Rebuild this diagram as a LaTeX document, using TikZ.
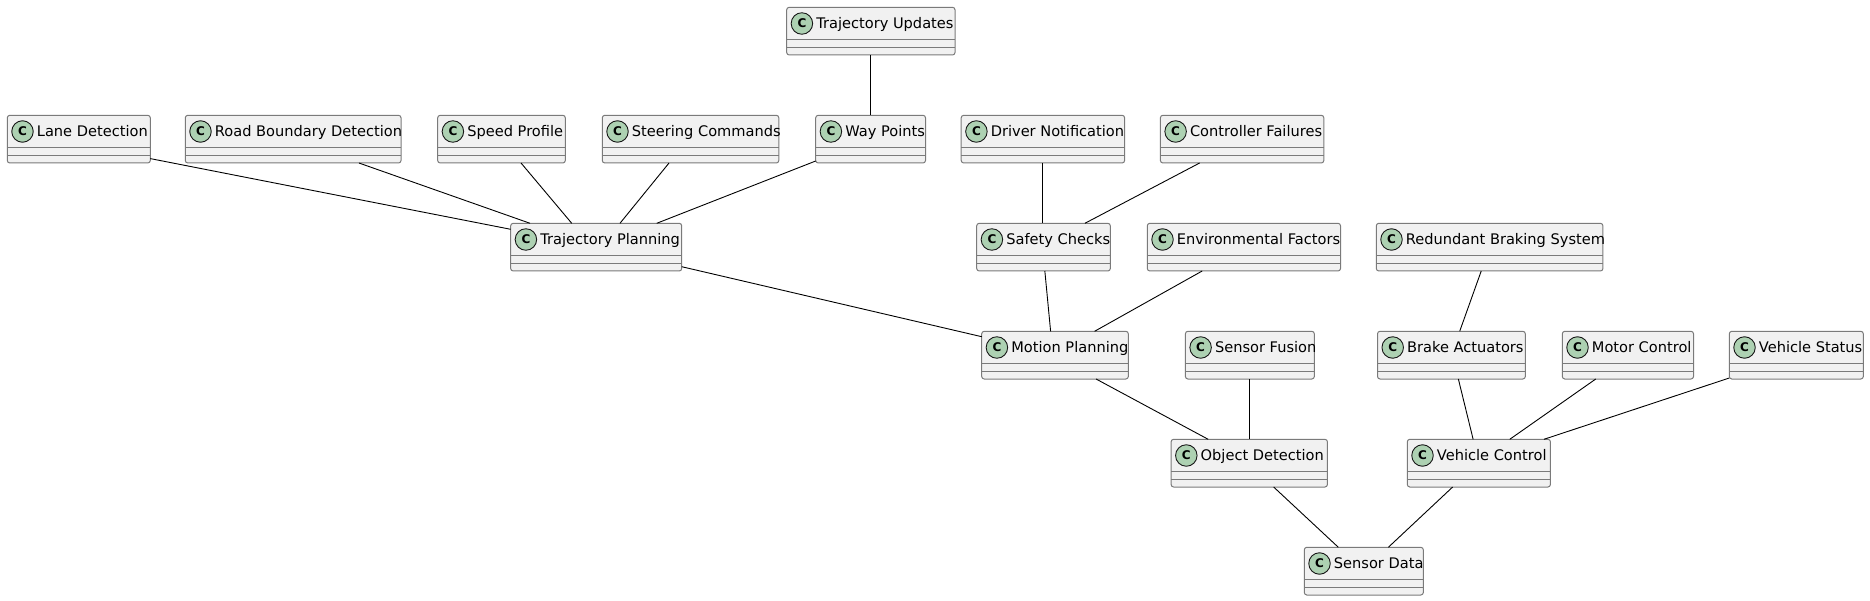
\documentclass[tikz,border=0pt]{standalone}
\usepackage{fontspec}
\setmainfont{DejaVu Sans}
\usetikzlibrary{calc}
\definecolor{boxfill}{HTML}{F1F1F1}
\definecolor{boxline}{HTML}{7A7A7A}
\definecolor{iconfill}{HTML}{ADD1B2}
\definecolor{iconline}{HTML}{181818}
\tikzset{
  clsbox/.style={draw=boxline, fill=boxfill, line width=1pt, rounded corners=2.5pt, inner sep=0pt, outer sep=0pt, minimum height=47.7pt, anchor=north west},
  divline/.style={draw=boxline, line width=1pt},
  clsicon/.style={circle, draw=iconline, fill=iconfill, line width=0.9pt, minimum size=21.5pt, inner sep=0pt, font=\fontsize{12}{12}\selectfont\bfseries},
  clslabel/.style={inner sep=0pt, anchor=base west, font=\fontsize{14.6}{16}\selectfont},
  edge/.style={draw=black, line width=0.9pt}
}
\newcommand\umlcls[5]{%
  \node[clsbox, minimum width={(#3-#2)*1pt}] (#1) at (#2,-#4) {};
  \draw[divline] ($(#1.north west)+(0,-32)$) -- ($(#1.north east)+(0,-32)$);
  \draw[divline] ($(#1.north west)+(0,-40)$) -- ($(#1.north east)+(0,-40)$);
  \node[clsicon] (#1-icon) at ($(#1.north west)+(15.2,-16.2)$) {C};
  \node[clslabel] (#1-label) at ($(#1.north west)+(29.4,-21)$) {#5};
}
\begin{document}
\begin{tikzpicture}[x=1pt,y=1pt]
\useasboundingbox (0,0) rectangle (1870,-601);
% rows
\def\rA{7.3}\def\rB{115.3}\def\rC{223.3}\def\rD{331.3}\def\rE{439.3}\def\rF{547.3}
\umlcls{tu}{786.7}{955}{\rA}{Trajectory Updates}
\umlcls{ld}{7.3}{150.3}{\rB}{Lane Detection}
\umlcls{rb}{185.3}{401}{\rB}{Road Boundary Detection}
\umlcls{sp}{437.7}{565.3}{\rB}{Speed Profile}
\umlcls{sc}{602.3}{778.8}{\rB}{Steering Commands}
\umlcls{wp}{815.7}{925.5}{\rB}{Way Points}
\umlcls{dn}{961.2}{1124.6}{\rB}{Driver Notification}
\umlcls{cf}{1160.4}{1323.8}{\rB}{Controller Failures}
\umlcls{tp}{510.7}{681.7}{\rC}{Trajectory Planning}
\umlcls{sa}{976.7}{1110.3}{\rC}{Safety Checks}
\umlcls{ef}{1147.3}{1340.5}{\rC}{Environmental Factors}
\umlcls{rbs}{1376.3}{1602.9}{\rC}{Redundant Braking System}
\umlcls{mp}{981.7}{1128.3}{\rD}{Motion Planning}
\umlcls{sf}{1185.4}{1314.3}{\rD}{Sensor Fusion}
\umlcls{ba}{1377.5}{1525.3}{\rD}{Brake Actuators}
\umlcls{mc}{1562.3}{1693.5}{\rD}{Motor Control}
\umlcls{vs}{1729.3}{1863.3}{\rD}{Vehicle Status}
\umlcls{od}{1171.1}{1327.4}{\rE}{Object Detection}
\umlcls{vc}{1407.3}{1550.4}{\rE}{Vehicle Control}
\umlcls{sd}{1304.3}{1423.3}{\rF}{Sensor Data}
% connectors
\draw[edge] (tu.south) -- (tu.south |- wp.north);
\draw[edge] ($(ld.south east)+(0,4.4)$) -- ($(tp.north west)+(0,-6)$);
\draw[edge] ($(rb.south west)!0.805!(rb.south east)$) -- ($(tp.north west)!0.113!(tp.north east)$);
\draw[edge] ($(sp.south west)!0.653!(sp.south east)$) -- ($(tp.north west)!0.357!(tp.north east)$);
\draw[edge] ($(sc.south west)!0.378!(sc.south east)$) -- ($(tp.north west)!0.639!(tp.north east)$);
\draw[edge] ($(wp.south west)+(0,2)$) -- ($(tp.north west)!0.854!(tp.north east)$);
\draw[edge] (dn.south) -- (dn.south |- sa.north);
\draw[edge] ($(cf.south west)!0.24!(cf.south east)$) -- ($(sa.north west)!0.81!(sa.north east)$);
\draw[edge] ($(tp.south east)+(0,4.3)$) -- ($(mp.north west)+(0,-5.4)$);
\draw[edge] ($(sa.south west)!0.51!(sa.south east)$) -- ($(mp.north west)!0.47!(mp.north east)$);
\draw[edge] ($(ef.south west)!0.284!(ef.south east)$) -- ($(mp.north west)!0.77!(mp.north east)$);
\draw[edge] ($(rbs.south west)!0.463!(rbs.south east)$) -- ($(ba.north west)!0.556!(ba.north east)$);
\draw[edge] ($(mp.south west)!0.78!(mp.south east)$) -- ($(od.north west)!0.237!(od.north east)$);
\draw[edge] (sf.south) -- (sf.south |- od.north);
\draw[edge] ($(ba.south west)!0.547!(ba.south east)$) -- ($(vc.north west)!0.46!(vc.north east)$);
\draw[edge] ($(mc.south west)!0.255!(mc.south east)$) -- ($(vc.north west)!0.716!(vc.north east)$);
\draw[edge] ($(vs.south west)+(0,1)$) -- ($(vc.north west)!0.955!(vc.north east)$);
\draw[edge] ($(od.south west)!0.656!(od.south east)$) -- ($(sd.north west)!0.286!(sd.north east)$);
\draw[edge] ($(vc.south west)!0.317!(vc.south east)$) -- ($(sd.north west)!0.706!(sd.north east)$);
\end{tikzpicture}
\end{document}
